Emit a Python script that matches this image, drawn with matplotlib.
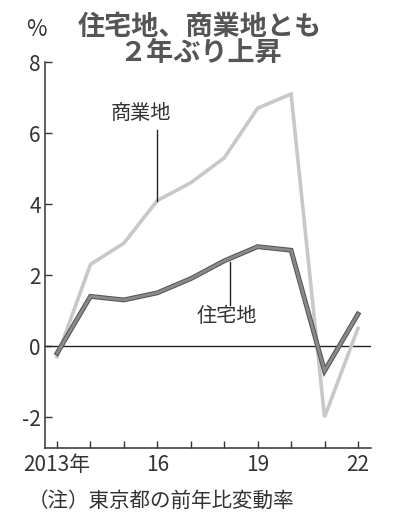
import matplotlib
matplotlib.use('Agg')
import matplotlib.pyplot as plt
import matplotlib.patheffects as pe
from matplotlib import font_manager

# Tokyo land price change vs previous year (%)
years = [2013, 2014, 2015, 2016, 2017, 2018, 2019, 2020, 2021, 2022]
commercial = [-0.3, 2.3, 2.9, 4.1, 4.6, 5.3, 6.7, 7.1, -2.0, 0.5]
residential = [-0.2, 1.4, 1.3, 1.5, 1.9, 2.4, 2.8, 2.7, -0.7, 0.9]
xtick_years = [2013, 2016, 2019, 2022]
xtick_labels = ['2013年', '16', '19', '22']
yticks = [-2, 0, 2, 4, 6, 8]

names = {f.name for f in font_manager.fontManager.ttflist}
num_font = 'Liberation Sans Narrow' if 'Liberation Sans Narrow' in names else 'Noto Sans CJK JP'
plt.rcParams['font.family'] = ['Noto Sans CJK JP', 'DejaVu Sans']

fig = plt.figure(figsize=(3.94, 5.24), dpi=100)
ax = fig.add_axes([0.1142, 0.145, 0.8274, 0.7366])

ax.plot(years, commercial, color='#c8c8c8', lw=2.6, solid_joinstyle='miter', zorder=3)
ax.plot(years, residential, color='#8a8a8a', lw=2.0, solid_joinstyle='miter', zorder=4,
        path_effects=[pe.Stroke(linewidth=3.5, foreground='#555555'), pe.Normal()])

ax.axhline(0, color='#222222', lw=1.0, zorder=2)

ax.set_xlim(2012.64, 2022.39)
ax.set_ylim(-2.87, 8)

ax.spines['top'].set_visible(False)
ax.spines['right'].set_visible(False)
for s in ['left', 'bottom']:
    ax.spines[s].set_color('#333333')
    ax.spines[s].set_linewidth(1.1)

ax.set_yticks(yticks)
ax.set_yticklabels([str(v) for v in yticks], family=num_font, fontsize=15, color='#333333')
ax.set_xticks(years)
ax.set_xticklabels(['' for y in years])
ax.tick_params(axis='both', direction='in', length=5, width=1, color='#333333')
ax.tick_params(axis='y', pad=3)

for y, lab in zip(xtick_years, xtick_labels):
    ax.text(y, -3.05, lab, ha='center', va='top', fontsize=15, color='#333333',
            family=[num_font, 'Noto Sans CJK JP'])

# leader lines and series labels
ax.plot([2016, 2016], [4.1, 6.08], color='#222222', lw=1.0, zorder=5)
ax.text(2015.5, 6.56, '商業地', ha='center', va='center', fontsize=14.5, color='#333333')
ax.plot([2018.18, 2018.18], [1.15, 2.37], color='#222222', lw=1.0, zorder=5)
ax.text(2018.09, 0.82, '住宅地', ha='center', va='center', fontsize=14.5, color='#333333')

fig.text(0.508, 0.948, '住宅地、商業地とも', ha='center', va='center', fontsize=19.5,
         fontweight='bold', color='#555555')
fig.text(0.508, 0.899, '２年ぶり上昇', ha='center', va='center', fontsize=19.5,
         fontweight='bold', color='#555555')
fig.text(0.093, 0.943, '%', ha='center', va='center', fontsize=16, color='#333333',
         family=num_font)
fig.text(0.07, 0.045, '（注）東京都の前年比変動率', ha='left', va='center', fontsize=14.8,
         color='#333333')

fig.savefig('out.png', dpi=100, facecolor='white')
